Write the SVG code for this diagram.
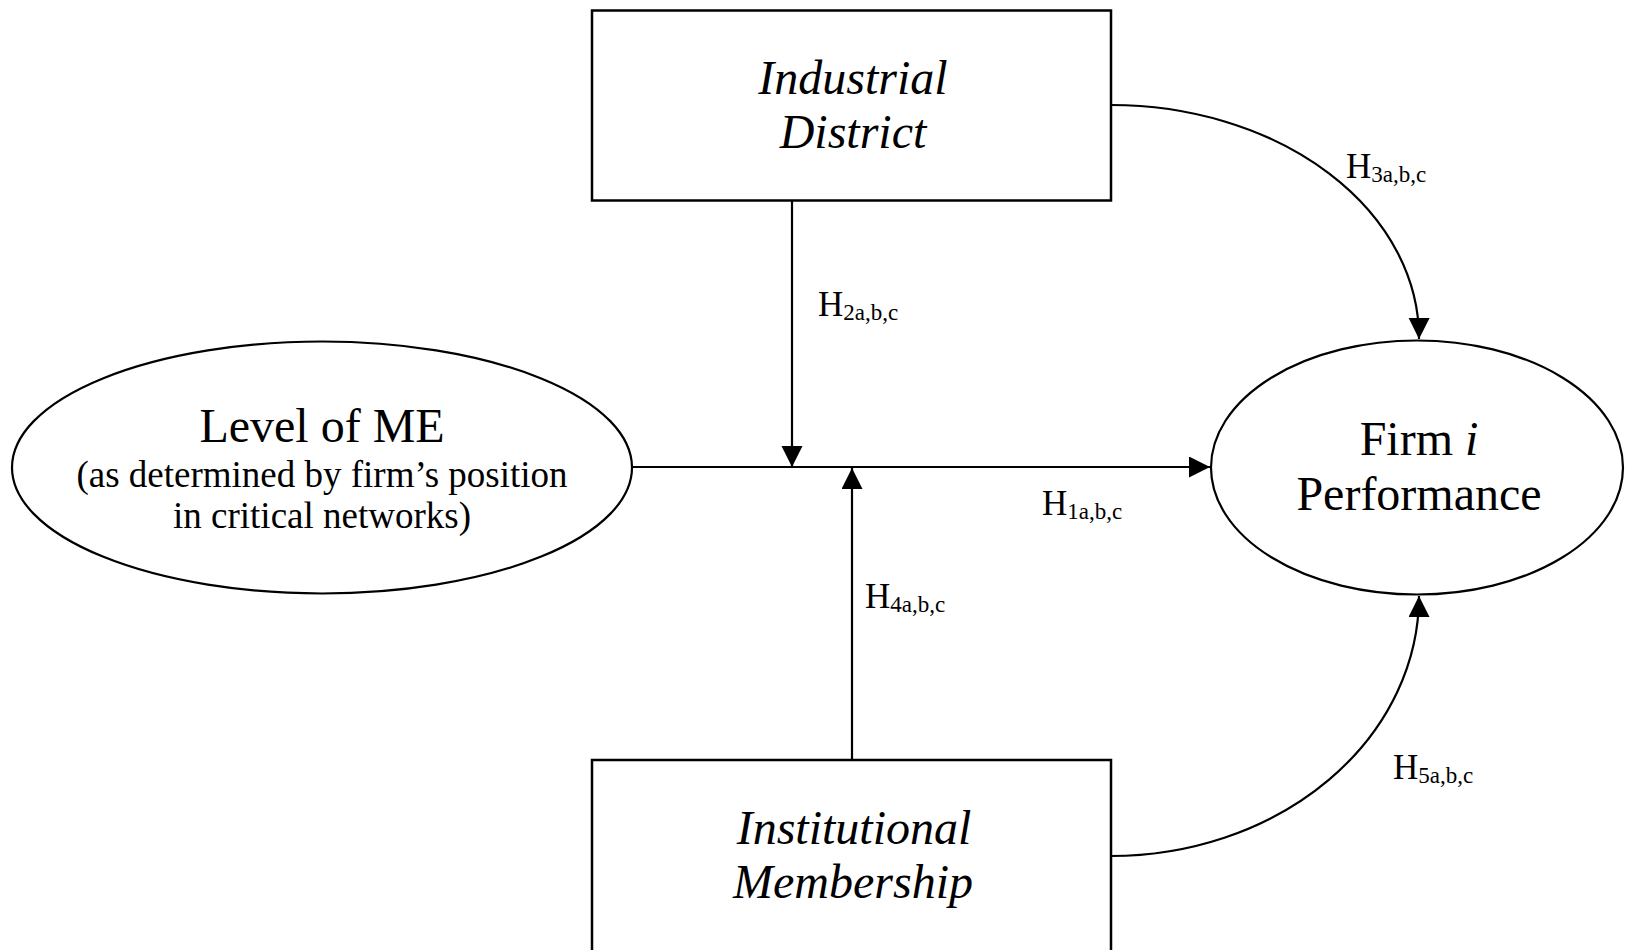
<svg xmlns="http://www.w3.org/2000/svg" width="1625" height="950" viewBox="0 0 1625 950">
<style>
.box{fill:#fff;stroke:#000;stroke-width:2.5}
.ell{fill:#fff;stroke:#000;stroke-width:2.2}
.ln{fill:none;stroke:#000;stroke-width:2.2}
.t{font-family:"Liberation Serif","Times New Roman",serif;fill:#000;text-anchor:middle}
.big{font-size:48px}
.it{font-style:italic}
.sub{font-size:37px}
.h{font-family:"Liberation Serif","Times New Roman",serif;font-size:35px;fill:#000}
.hs{font-size:23px}
</style>
<defs>
<marker id="arr" markerUnits="userSpaceOnUse" markerWidth="22" markerHeight="22" refX="21" refY="10.5" orient="auto">
<path d="M0,0 L21,10.5 L0,21 z" fill="#000"/>
</marker>
</defs>
<rect width="1625" height="950" fill="#fff"/>
<g id="connectors">
<line class="ln" x1="633" y1="467" x2="1210" y2="467" marker-end="url(#arr)"/>
<line class="ln" x1="792" y1="200" x2="792" y2="467" marker-end="url(#arr)"/>
<line class="ln" x1="852" y1="760" x2="852" y2="468" marker-end="url(#arr)"/>
<path class="ln" d="M1111,105 A308,233 0 0 1 1419,339" marker-end="url(#arr)"/>
<path class="ln" d="M1111,856 A308,260 0 0 0 1419,596" marker-end="url(#arr)"/>
</g>
<g id="labels">
<text class="h" x="818" y="316">H<tspan class="hs" dy="4">2a,b,c</tspan></text>
<text class="h" x="1042" y="515">H<tspan class="hs" dy="4">1a,b,c</tspan></text>
<text class="h" x="865" y="608">H<tspan class="hs" dy="4">4a,b,c</tspan></text>
<text class="h" x="1346" y="178">H<tspan class="hs" dy="4">3a,b,c</tspan></text>
<text class="h" x="1393" y="779">H<tspan class="hs" dy="4">5a,b,c</tspan></text>
</g>
<g id="industrial-district">
<rect class="box" x="592" y="10.5" width="519" height="190"/>
<text class="t big it" x="853" y="94">Industrial</text>
<text class="t big it" x="853" y="148">District</text>
</g>
<g id="institutional-membership">
<rect class="box" x="592" y="760" width="519" height="200"/>
<text class="t big it" x="854" y="844">Institutional</text>
<text class="t big it" x="853" y="898">Membership</text>
</g>
<g id="level-of-me">
<ellipse class="ell" cx="322" cy="467.5" rx="310" ry="126"/>
<text class="t big" x="322" y="442">Level of ME</text>
<text class="t sub" x="322" y="487">(as determined by firm’s position</text>
<text class="t sub" x="322" y="528">in critical networks)</text>
</g>
<g id="firm-performance">
<ellipse class="ell" cx="1417" cy="467.5" rx="206" ry="127"/>
<text class="t big" x="1419" y="455">Firm <tspan class="it">i</tspan></text>
<text class="t big" x="1419" y="510">Performance</text>
</g>
</svg>
